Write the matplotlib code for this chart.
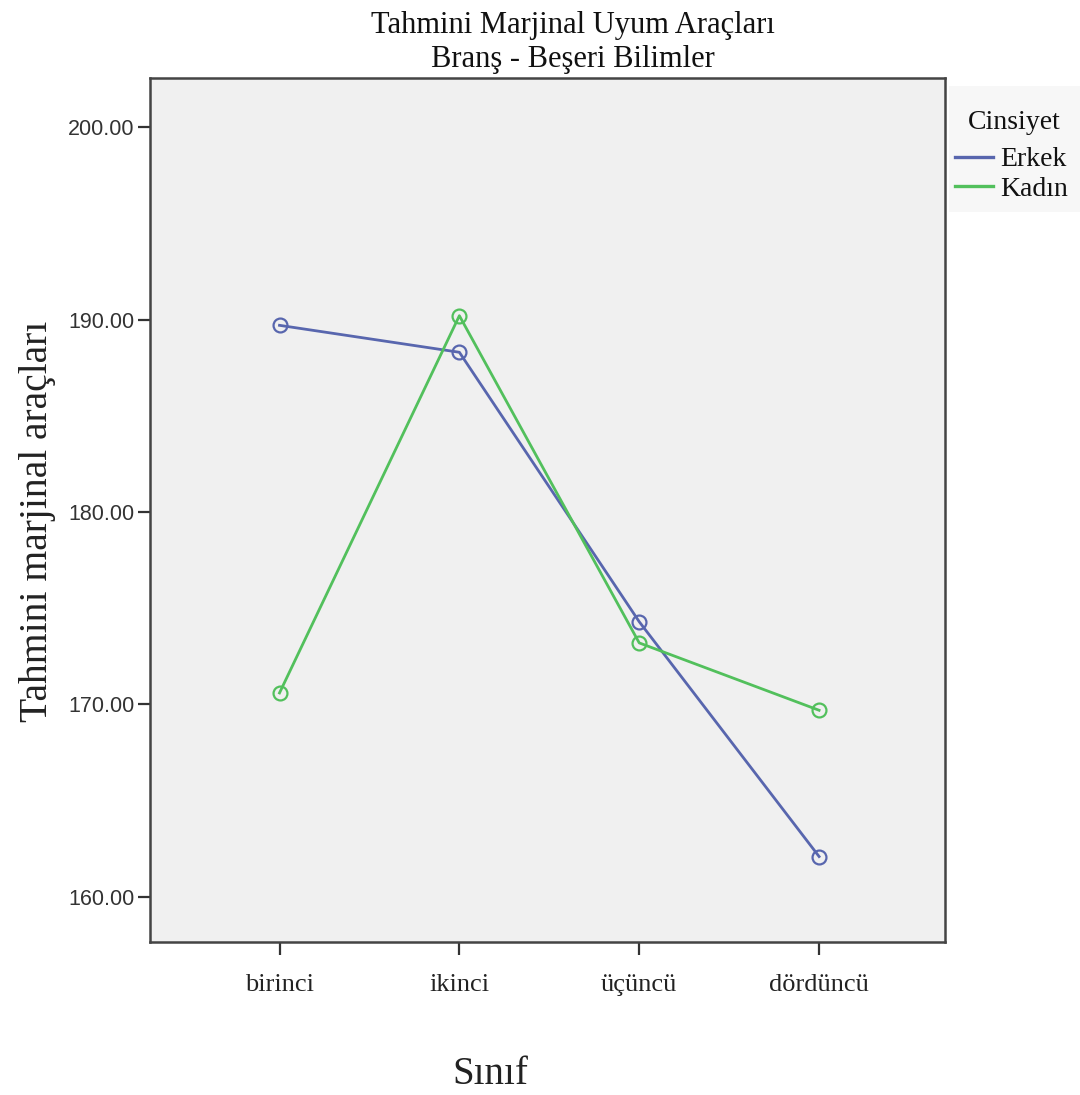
import matplotlib
matplotlib.use("Agg")
import matplotlib.pyplot as plt
from matplotlib.patches import Rectangle

categories = ["birinci", "ikinci", "üçüncü", "dördüncü"]
erkek = [189.7, 188.3, 174.3, 162.1]
kadin = [170.6, 190.2, 173.2, 169.7]
yticks = [160, 170, 180, 190, 200]

serif = ["Liberation Serif", "DejaVu Serif"]
sans = ["Liberation Sans", "DejaVu Sans"]

fig = plt.figure(figsize=(10.8, 10.95), dpi=100)
W, H = 1080, 1095
ax = fig.add_axes([150 / W, 1 - 942 / H, (945 - 150) / W, (942 - 78) / H])
ax.set_facecolor("#f0f0f0")

# light legend panel background
fig.patches.append(Rectangle((949 / W, 1 - 212 / H), (1080 - 949) / W, (212 - 86) / H,
                             transform=fig.transFigure, facecolor="#f7f7f7",
                             edgecolor="none", zorder=-5))

x = list(range(len(categories)))
blue = "#5866ae"
green = "#52c05c"
ax.plot(x, erkek, color=blue, lw=2.0, marker="o", mfc="none", mec=blue,
        ms=10, mew=1.6, label="Erkek", zorder=3)
ax.plot(x, kadin, color=green, lw=2.0, marker="o", mfc="none", mec=green,
        ms=10, mew=1.6, label="Kadın", zorder=3)

ax.set_xlim(-0.72, 3.7)
ax.set_ylim(157.66, 202.55)
ax.set_yticks(yticks)
ax.set_yticklabels([f"{v:.2f}" for v in yticks], fontfamily=sans, fontsize=15.5,
                   color="#333333")
ax.set_xticks(x)
ax.set_xticklabels(categories, fontfamily=serif, fontsize=19, color="#222222")
ax.tick_params(axis="both", direction="out", length=9, width=1.6, color="#333333")
ax.tick_params(axis="x", pad=14)
ax.tick_params(axis="y", pad=2)
for s in ax.spines.values():
    s.set_color("#444444")
    s.set_linewidth(1.8)

fig.text(573 / W, 1 - 25 / H, "Tahmini Marjinal Uyum Araçları", ha="center",
         va="center", fontfamily=serif, fontsize=22, color="#111111")
fig.text(573 / W, 1 - 59 / H, "Branş - Beşeri Bilimler", ha="center",
         va="center", fontfamily=serif, fontsize=22, color="#111111")
fig.text(490 / W, 1 - 1075 / H, "Sınıf", ha="center", va="center",
         fontfamily=serif, fontsize=28, color="#222222")
fig.text(38 / W, 1 - 521 / H, "Tahmini marjinal araçları", ha="center",
         va="center", rotation=90, fontfamily=serif, fontsize=28.5, color="#222222")

fig.text(1014 / W, 1 - 122 / H, "Cinsiyet", ha="center", va="center",
         fontfamily=serif, fontsize=20, color="#111111")
handles, labels = ax.get_legend_handles_labels()
leg = fig.legend(handles, labels, loc="upper left",
                 bbox_to_anchor=(955 / W, 1 - 147 / H),
                 bbox_transform=fig.transFigure, frameon=False,
                 prop={"family": serif, "size": 20}, handlelength=1.37,
                 handletextpad=0.25, borderaxespad=0, borderpad=0,
                 labelspacing=0.15)
leg.set_zorder(10)
for t in leg.get_texts():
    t.set_color("#111111")
for line in leg.get_lines():
    line.set_marker("")
    line.set_linewidth(2.4)

fig.savefig("out.png", dpi=100, facecolor="white")
